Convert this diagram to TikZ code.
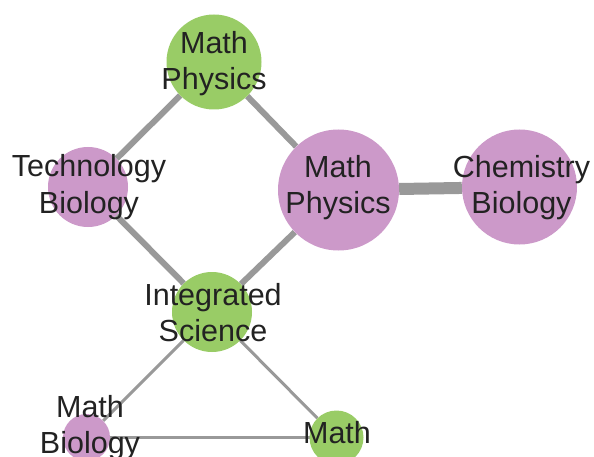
\documentclass[tikz,border=0pt]{standalone}
\usepackage{fontspec}
\setmainfont{Liberation Sans}
\pgfdeclarelayer{background}
\pgfsetlayers{background,main}
\definecolor{ngreen}{RGB}{153,204,102}
\definecolor{npink}{RGB}{204,153,201}
\definecolor{edgegray}{RGB}{153,153,153}
\definecolor{txt}{RGB}{34,34,34}
\tikzset{
  dot/.style={circle, inner sep=0pt, draw=none, minimum size=#1},
  gdot/.style={dot=#1, fill=ngreen},
  pdot/.style={dot=#1, fill=npink},
  lbl/.style={anchor=base, align=center, inner sep=0pt, text=txt,
    font=\fontsize{30.5}{36}\selectfont},
  edge/.style={draw=edgegray, line width=#1},
}
\begin{document}
\begin{tikzpicture}[x=1pt,y=-1pt]
\useasboundingbox (0,0) rectangle (594,457);
% circles
\node[gdot=95] (mp1) at (214,62) {};
\node[pdot=80] (tb) at (88,187) {};
\node[pdot=121] (mp2) at (338.5,190) {};
\node[pdot=115] (cb) at (519.5,187) {};
\node[gdot=80] (is) at (212,312) {};
\node[pdot=47] (mb) at (86.5,437.5) {};
\node[gdot=54] (m) at (336.5,437.5) {};
% edges
\begin{pgfonlayer}{background}
\draw[edge=6] (mp1) -- (tb);
\draw[edge=6] (mp1) -- (mp2);
\draw[edge=6] (tb) -- (is);
\draw[edge=6] (mp2) -- (is);
\draw[edge=12] (mp2) -- (cb);
\draw[edge=3] (is) -- (mb);
\draw[edge=3] (is) -- (m);
\draw[edge=3.5] (mb.center) -- (m.center);
\end{pgfonlayer}
% labels
\node[lbl] (lmp1) at (214,90) {Math\\Physics};
\node[lbl] (ltb) at (89,213) {Technology\\Biology};
\node[lbl] (lmp2) at (338,214) {Math\\Physics};
\node[lbl] (lcb) at (521.5,214) {Chemistry\\Biology};
\node[lbl] (lis) at (213,341) {Integrated\\Science};
\node[lbl] (lmb) at (90,453) {Math\\Biology};
\node[lbl] (lm) at (337,443) {Math};
\end{tikzpicture}
\end{document}
